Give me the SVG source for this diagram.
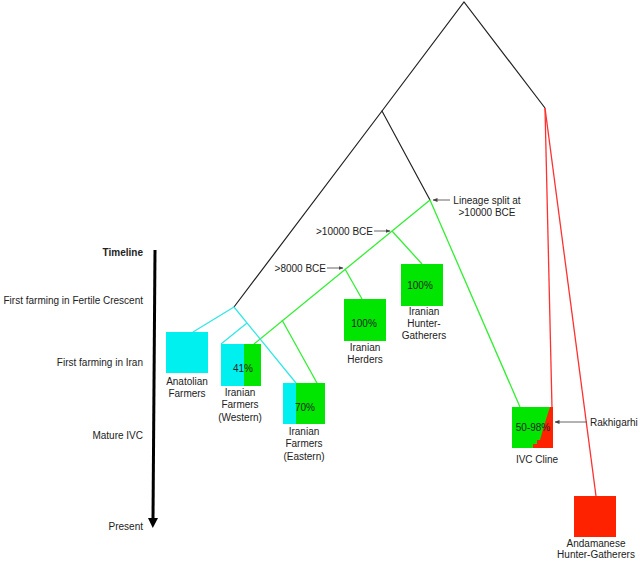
<svg xmlns="http://www.w3.org/2000/svg" width="640" height="561" viewBox="0 0 640 561">
<style>
text{font-family:"Liberation Sans",Arial,sans-serif;font-size:10px;fill:#222}
.m{text-anchor:middle}
.r{text-anchor:end}
.k{stroke:#222;stroke-width:1.2;fill:none}
.g{stroke:#33ee33;stroke-width:1.3;fill:none}
.c{stroke:#33e6e6;stroke-width:1.3;fill:none}
.rd{stroke:#ff3030;stroke-width:1.3;fill:none}
.ann{stroke:#555;stroke-width:0.9;fill:none;marker-end:url(#ah)}
.cy{fill:#00f0f0}
.gr{fill:#00e600}
.re{fill:#ff2200}
</style>
<defs>
<marker id="ah" viewBox="0 0 10 10" refX="9" refY="5" markerWidth="5" markerHeight="5" orient="auto" markerUnits="userSpaceOnUse"><path d="M0,1L10,5L0,9z" fill="#444"/></marker>
<marker id="tl" viewBox="0 0 10 10" refX="5" refY="9" markerWidth="10" markerHeight="10" orient="auto-start-reverse" markerUnits="userSpaceOnUse"><path d="M0,0L10,0L5,10z" fill="#000"/></marker>
</defs>
<rect width="640" height="561" fill="#fff"/>
<g id="connectors">
<polyline class="k" points="382,111 464,2 545,108"/>
<polyline class="k" points="234,307 382,111 430,200"/>
<line class="rd" x1="545" y1="108" x2="552" y2="408"/>
<line class="rd" x1="545" y1="108" x2="596" y2="496"/>
<line class="g" x1="430" y1="200" x2="520" y2="407"/>
<line class="g" x1="430" y1="200" x2="254" y2="344"/>
<line class="g" x1="392" y1="231" x2="422" y2="264"/>
<line class="g" x1="345" y1="269" x2="362" y2="299"/>
<line class="g" x1="282" y1="320" x2="317" y2="383"/>
<line class="c" x1="234" y1="307" x2="193" y2="332"/>
<line class="c" x1="234" y1="307" x2="296" y2="383"/>
<line class="c" x1="247" y1="323" x2="221" y2="344"/>
<line class="ann" x1="450" y1="200" x2="433" y2="200"/>
<line class="ann" x1="374" y1="231" x2="390" y2="231"/>
<line class="ann" x1="327" y1="268" x2="343" y2="268"/>
<line class="ann" x1="587" y1="422" x2="555" y2="422"/>
</g>
<g id="timeline">
<line x1="155" y1="250" x2="153" y2="519" stroke="#000" stroke-width="3"/>
<path d="M148,518L158,518L152.8,528z" fill="#000"/>
<text class="r" x="143" y="256" style="font-weight:bold">Timeline</text>
<text class="r" x="143" y="304">First farming in Fertile Crescent</text>
<text class="r" x="143" y="366">First farming in Iran</text>
<text class="r" x="143" y="439">Mature IVC</text>
<text class="r" x="143" y="530">Present</text>
</g>
<g id="anatolian">
<rect class="cy" x="166" y="332" width="42" height="41"/>
<text class="m" x="187" y="385">Anatolian</text>
<text class="m" x="187" y="397">Farmers</text>
</g>
<g id="western">
<rect class="cy" x="221" y="344" width="23" height="42"/>
<rect class="gr" x="244" y="344" width="17" height="42"/>
<text class="m" x="243" y="372">41%</text>
<text class="m" x="240" y="396">Iranian</text>
<text class="m" x="240" y="408">Farmers</text>
<text class="m" x="240" y="421">(Western)</text>
</g>
<g id="eastern">
<rect class="cy" x="283" y="383" width="13" height="41"/>
<rect class="gr" x="296" y="383" width="29" height="41"/>
<text class="m" x="305" y="411">70%</text>
<text class="m" x="304" y="435">Iranian</text>
<text class="m" x="304" y="447">Farmers</text>
<text class="m" x="304" y="460">(Eastern)</text>
</g>
<g id="herders">
<rect class="gr" x="344" y="299" width="42" height="42"/>
<text class="m" x="364" y="327">100%</text>
<text class="m" x="365" y="351">Iranian</text>
<text class="m" x="365" y="363">Herders</text>
</g>
<g id="hunter-gatherers">
<rect class="gr" x="401" y="264" width="42" height="42"/>
<text class="m" x="420" y="289">100%</text>
<text class="m" x="424" y="315">Iranian</text>
<text class="m" x="424" y="327">Hunter-</text>
<text class="m" x="424" y="339">Gatherers</text>
</g>
<g id="ivc-cline">
<rect class="gr" x="512" y="407" width="41" height="41"/>
<polygon class="re" points="550,407 553,407 553,448 533,448 533,444 537,444 537,440 540,440 544,426 548,413"/>
<text class="m" x="533" y="431">50-98%</text>
<text class="m" x="537" y="463">IVC Cline</text>
</g>
<g id="andamanese">
<rect class="re" x="574" y="496" width="42" height="41"/>
<text class="m" x="596" y="547">Andamanese</text>
<text class="m" x="596" y="558">Hunter-Gatherers</text>
</g>
<g id="labels">
<text class="m" x="487" y="204">Lineage split at</text>
<text class="m" x="487" y="216">&gt;10000 BCE</text>
<text class="r" x="373" y="235">&gt;10000 BCE</text>
<text class="r" x="326" y="272">&gt;8000 BCE</text>
<text x="590" y="426">Rakhigarhi</text>
</g>
</svg>
